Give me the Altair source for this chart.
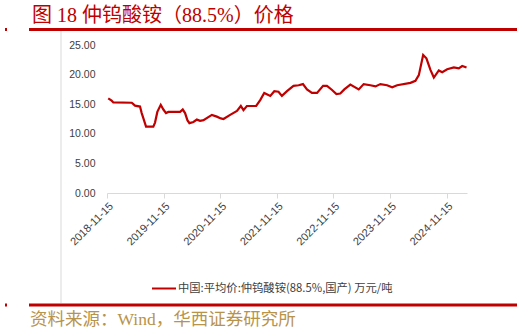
import altair as alt
import pandas as pd

dates = [
    "2018-11-23", "2018-12-15", "2018-12-26", "2019-04-24", "2019-05-15", "2019-06-16",
    "2019-06-27", "2019-07-08", "2019-07-25", "2019-09-10", "2019-09-21", "2019-10-06",
    "2019-10-28", "2019-11-14", "2019-12-01", "2019-12-16", "2020-03-01", "2020-03-18",
    "2020-04-02", "2020-04-17", "2020-04-30", "2020-05-26", "2020-06-17", "2020-07-08",
    "2020-07-30", "2020-09-22", "2020-10-24", "2020-11-19", "2020-12-06", "2021-01-18",
    "2021-03-03", "2021-03-28", "2021-04-14", "2021-05-06", "2021-07-05", "2021-07-31",
    "2021-08-26", "2021-10-04", "2021-10-30", "2021-11-26", "2021-12-18", "2022-01-20",
    "2022-03-03", "2022-04-05", "2022-05-03", "2022-05-29", "2022-06-30", "2022-08-02",
    "2022-09-10", "2022-10-05", "2022-11-07", "2022-12-05", "2022-12-30", "2023-01-25",
    "2023-03-05", "2023-04-28", "2023-05-30", "2023-07-12", "2023-08-14", "2023-09-15",
    "2023-10-28", "2023-11-30", "2024-01-01", "2024-03-27", "2024-04-28", "2024-05-20",
    "2024-06-17", "2024-07-08", "2024-08-03", "2024-08-25", "2024-09-26", "2024-10-18",
    "2024-11-19", "2025-01-01", "2025-02-02", "2025-02-24", "2025-03-24",
]
prices = [
    16.0, 15.6, 15.3, 15.25, 14.75, 14.6,
    13.5, 12.6, 11.2, 11.2, 11.9, 13.7,
    14.9, 14.1, 13.5, 13.7, 13.7, 14.1,
    13.5, 12.3, 11.8, 12.0, 12.4, 12.2,
    12.3, 13.2, 12.9, 12.6, 12.5, 13.2,
    13.85, 14.7, 14.0, 14.7, 14.7, 15.7,
    16.9, 16.4, 17.2, 17.1, 16.4, 17.2,
    18.1, 18.2, 18.4, 17.5, 16.9, 16.9,
    18.1, 18.1, 17.4, 16.7, 16.8, 17.5,
    18.3, 17.5, 18.4, 18.2, 18.0, 18.4,
    18.2, 17.85, 18.2, 18.6, 18.95, 19.9,
    23.3, 22.75, 20.8, 19.5, 20.7, 20.4,
    20.9, 21.2, 21.05, 21.45, 21.2,
]
tick_years = [2018, 2019, 2020, 2021, 2022, 2023, 2024]
y_ticks = [0, 5, 10, 15, 20, 25]

title_text = "图 18 仲钨酸铵（88.5%）价格"
legend_text = "中国:平均价:仲钨酸铵(88.5%,国产) 万元/吨"
source_text = "资料来源：Wind，华西证券研究所"

RED = "#C00000"
df = pd.DataFrame({"date": dates, "price": prices})

line = alt.Chart(df).mark_line(color=RED, strokeWidth=2.2, interpolate="linear").encode(
    x=alt.X(
        "date:T",
        scale=alt.Scale(domain=[alt.DateTime(year=2018, month=11, date=15),
                                alt.DateTime(year=2025, month=3, date=27)]),
        axis=alt.Axis(
            title=None,
            values=[alt.DateTime(year=y, month=11, date=15) for y in tick_years],
            format="%Y-%m-%d",
            labelAngle=-45,
            labelFontSize=11,
            labelColor="#404040",
            labelFont="Liberation Sans",
            domainColor="#d9d9d9",
            tickColor="#d9d9d9",
            tickSize=5,
            grid=False,
            labelPadding=2,
        ),
    ),
    y=alt.Y(
        "price:Q",
        scale=alt.Scale(domain=[0, 25], nice=False),
        axis=alt.Axis(
            title=None,
            values=y_ticks,
            format=".2f",
            domain=False,
            ticks=False,
            grid=False,
            labelFontSize=10.5,
            labelColor="#404040",
            labelFont="Liberation Sans",
            labelPadding=12,
        ),
    ),
)

one = pd.DataFrame({"k": [0]})

def rule(x1, x2, y1, y2, color, width):
    return alt.Chart(one).mark_rule(color=color, strokeWidth=width).encode(
        x=alt.value(x1), x2=alt.value(x2), y=alt.value(y1), y2=alt.value(y2)
    )

# plot origin is at page (107, 45)
top_line = rule(-78, 410, -15.5, -15.5, RED, 3)
bottom_line = rule(-78, 410, 260, 260, RED, 3)
dot_top = rule(-102, -100, -15.5, -15.5, RED, 3)
dot_bottom = rule(-102, -100, 260, 260, RED, 3)
frame_line = rule(-46, -46, -15, 258, "#d9d9d9", 1)
legend_line = rule(45, 69, 243.5, 243.5, RED, 2)

title = alt.Chart(one).mark_text(
    align="left", baseline="alphabetic", fontSize=20, color=RED,
    font="Liberation Serif, Noto Sans CJK SC",
).encode(x=alt.value(-75), y=alt.value(-23), text=alt.value(title_text))

legend_label = alt.Chart(one).mark_text(
    align="left", baseline="middle", fontSize=11.3, color="#404040",
    font="Noto Sans CJK SC",
).encode(x=alt.value(71), y=alt.value(243.5), text=alt.value(legend_text))

source = alt.Chart(one).mark_text(
    align="left", baseline="middle", fontSize=17.5, color="#B8934A",
    font="Liberation Serif, Noto Sans CJK SC",
).encode(x=alt.value(-77), y=alt.value(275), text=alt.value(source_text))

chart = alt.layer(
    frame_line, top_line, bottom_line, dot_top, dot_bottom, line,
    legend_line, legend_label, title, source,
).properties(
    width=360,
    height=148,
    padding={"left": 107, "top": 45, "right": 62, "bottom": 140},
    autosize=alt.AutoSizeParams(type="none"),
    background="white",
).configure_view(stroke=None)

chart.save("out.html", embed_options={"renderer": "svg", "actions": False})
